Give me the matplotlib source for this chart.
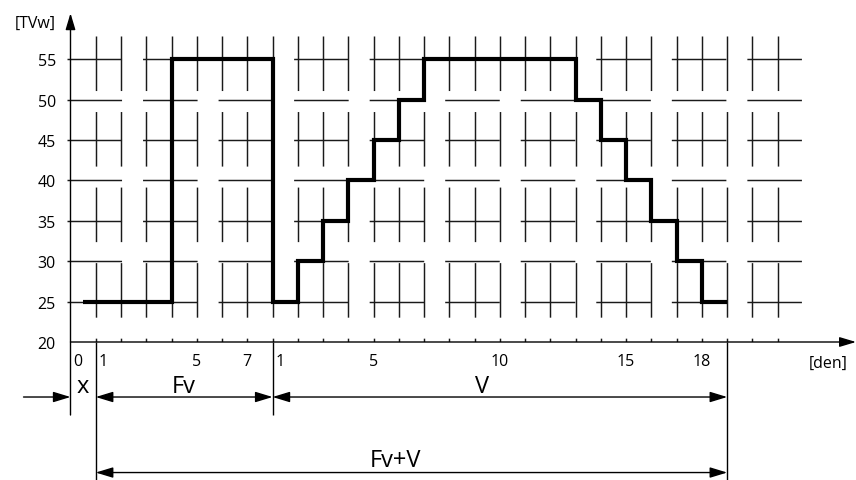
import numpy as np
import matplotlib
matplotlib.use("Agg")
import matplotlib.pyplot as plt

plt.rcParams['font.family'] = ['Open Sans', 'DejaVu Sans']

# step profile: day edges (0 = start, 1..7 = Fv, 8.. = V days) and TVw levels
day_edges = [0.5, 4, 8, 9, 10, 11, 12, 13, 14, 20, 21, 22, 23, 24, 25, 26]
tvw = [25, 55, 25, 30, 35, 40, 45, 50, 55, 50, 45, 40, 35, 30, 25]

y_ticks = [20, 25, 30, 35, 40, 45, 50, 55]
grid_y = [25, 30, 35, 40, 45, 50, 55]
grid_x = list(range(1, 29))

x_lab_pos = [0, 1, 5, 7, 8, 12, 17, 22, 25]
x_lab_txt = ['0', '1', '5', '7', '1', '5', '10', '15', '18']
x_lab_left = [True, True, False, False, True, False, False, False, False]

# period marks (x = start, Fv = 1..8, V = 8..26)
x_start, fv_start, v_start, v_end = 0, 1, 8, 26

fig = plt.figure(figsize=(8.56, 4.81), dpi=100)
ax = fig.add_axes([70.5 / 856, 138 / 481, 785.5 / 856, 331.2 / 481])
ax.set_xlim(0, 31.1)
ax.set_ylim(20, 61)
for s in ax.spines.values():
    s.set_visible(False)

# dashed grid (long dash, short gap)
dash = (0, (37.4, 14.4))
gcol = '#1a1a1a'
ax.vlines(grid_x, 57.9, 20, colors=gcol, lw=1.05, linestyles=[dash])
ax.hlines(grid_y, -0.12, 29.15, colors=gcol, lw=1.05, linestyles=[dash],
          clip_on=False)

# the TVw profile
st = ax.stairs(tvw, day_edges, baseline=None, color='k', lw=3.0, zorder=5)
st.set_joinstyle('miter')

# axes with arrows
ax_arrow = dict(arrowstyle='-|>,head_length=10,head_width=3',
                mutation_scale=1, lw=1.0, color='k', shrinkA=0, shrinkB=0)
ax.annotate('', xy=(31.1, 20), xytext=(0, 20), arrowprops=ax_arrow,
            annotation_clip=False)
ax.annotate('', xy=(0, 60.7), xytext=(0, 10.96), arrowprops=ax_arrow,
            annotation_clip=False)

ax.set_xticks([])
ax.set_yticks(y_ticks)
ax.tick_params(axis='y', length=0, pad=10.5, labelsize=11.5)

for p, t, left in zip(x_lab_pos, x_lab_txt, x_lab_left):
    if left:
        ax.text(p + 0.12, 17.15, t, ha='left', va='baseline', fontsize=11.5)
    else:
        ax.text(p, 17.15, t, ha='center', va='baseline', fontsize=11.5)

ax.text(30.0, 16.9, '[den]', ha='center', va='baseline', fontsize=11.5,
        clip_on=False)
ax.text(-0.6, 59.0, '[TVw]', ha='right', va='baseline', fontsize=11.5,
        clip_on=False)

# dimension lines below the axis
ax.vlines([fv_start, v_end], 20, 1.5, colors='k', lw=1.0, clip_on=False)
ax.vlines([v_start], 20, 10.96, colors='k', lw=1.0, clip_on=False)

row1, row2 = 13.19, 3.84
dim = dict(arrowstyle='<|-|>,head_length=10.5,head_width=3.2',
           mutation_scale=1, lw=1.0, color='k', shrinkA=0, shrinkB=0)
one = dict(dim, arrowstyle='-|>,head_length=10.5,head_width=3.2')
ax.annotate('', xy=(x_start, row1), xytext=(-1.86, row1), arrowprops=one,
            annotation_clip=False)
ax.annotate('', xy=(v_start, row1), xytext=(fv_start, row1), arrowprops=dim,
            annotation_clip=False)
ax.annotate('', xy=(v_end, row1), xytext=(v_start, row1), arrowprops=dim,
            annotation_clip=False)
ax.annotate('', xy=(v_end, row2), xytext=(fv_start, row2), arrowprops=dim,
            annotation_clip=False)

ax.text(0.5, 13.81, 'x', ha='center', va='baseline', fontsize=17)
ax.text(4.47, 13.81, 'Fv', ha='center', va='baseline', fontsize=17)
ax.text(16.3, 13.81, 'V', ha='center', va='baseline', fontsize=17)
ax.text(12.85, 4.65, 'Fv+V', ha='center', va='baseline', fontsize=17)

fig.savefig('out.png', dpi=100)
